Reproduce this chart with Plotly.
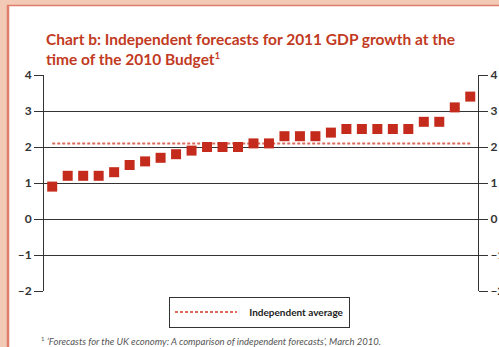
import plotly.graph_objects as go

forecasts = [0.9, 1.2, 1.2, 1.2, 1.3, 1.5, 1.6, 1.7, 1.8, 1.9, 2.0, 2.0, 2.0,
             2.1, 2.1, 2.3, 2.3, 2.3, 2.4, 2.5, 2.5, 2.5, 2.5, 2.5, 2.7, 2.7, 3.1, 3.4]
average = 2.1
tick_vals = [-2, -1, 0, 1, 2, 3, 4]
tick_text = ["\u20132", "\u20131", "0", "1", "2", "3", "4"]

W, H = 499, 347
L, R, T, B = 44, 478, 75, 291

def px(x):
    return (x - L) / (R - L)

def py(y):
    return (B - y) / (B - T)

idx = list(range(len(forecasts)))
fnt = "Lato, sans-serif"

fig = go.Figure()
fig.add_trace(go.Scatter(x=[idx[0], idx[-1]], y=[average, average], mode="lines",
                         line=dict(color="#dc6a5c", width=2, dash="3px,2px"),
                         name="\u00a0\u00a0\u00a0Independent average", showlegend=True))
fig.add_trace(go.Scatter(x=idx, y=forecasts, mode="markers",
                         marker=dict(symbol="square", size=10, color="#c42b1c",
                                     line=dict(width=0)),
                         showlegend=False))
fig.add_trace(go.Scatter(x=[idx[0]], y=[average], mode="markers", yaxis="y2",
                         marker=dict(opacity=0), showlegend=False, hoverinfo="skip"))

axis_common = dict(range=[-2, 4], tickvals=tick_vals, ticktext=tick_text,
                   gridcolor="#333333", gridwidth=1, zeroline=False,
                   showline=True, linecolor="#333333", linewidth=1, automargin=False,
                   ticks="outside", ticklen=9, tickcolor="#333333", tickwidth=1,
                   tickfont=dict(family=fnt, size=12, color="#333333", weight="bold"))

fig.update_layout(
    width=W, height=H,
    margin=dict(l=L, r=W - R, t=T, b=H - B),
    paper_bgcolor="#f2cab6", plot_bgcolor="rgba(0,0,0,0)",
    xaxis=dict(range=[-0.53, 27.5], showgrid=False, zeroline=False, showline=False,
               showticklabels=False, ticks="", automargin=False),
    yaxis=dict(**axis_common, side="left", showgrid=True),
    yaxis2=dict(**axis_common, side="right", overlaying="y", showgrid=False),
    showlegend=True,
    legend=dict(x=px(259.5), y=py(312), xanchor="center", yanchor="middle",
                orientation="h", bordercolor="#333333", borderwidth=1,
                bgcolor="white", itemwidth=62,
                font=dict(family=fnt, size=10, color="#222222", weight="bold")),
    shapes=[
        dict(type="rect", xref="paper", yref="paper", x0=px(8), x1=px(520),
             y0=py(5.5), y1=py(400), fillcolor="white", line=dict(width=0), layer="below"),
        dict(type="line", xref="paper", yref="paper", x0=px(8), x1=px(8),
             y0=py(5), y1=py(400), line=dict(color="#e07d6c", width=2.5), layer="below"),
        dict(type="line", xref="paper", yref="paper", x0=px(7), x1=px(520),
             y0=py(5.5), y1=py(5.5), line=dict(color="#e07d6c", width=1.5), layer="below"),
    ],
    annotations=[
        dict(xref="paper", yref="paper", x=px(44), y=py(28), xanchor="left", yanchor="top",
             align="left", showarrow=False,
             text="Chart b: Independent forecasts for 2011 GDP growth at the<br>time of the 2010 Budget<sup><span style='font-size:9px'>1</span></sup>",
             font=dict(family=fnt, size=15.5, color="#c23a22", weight="bold")),
        dict(xref="paper", yref="paper", x=px(39), y=py(349), xanchor="left", yanchor="bottom",
             showarrow=False,
             text="<sup><span style='font-size:6px'>1</span></sup> <i>\u2018Forecasts for the UK economy: A comparison of independent forecasts\u2019, March 2010.</i>",
             font=dict(family=fnt, size=9.5, color="#555555")),
    ],
)

fig.write_html("out.html")
